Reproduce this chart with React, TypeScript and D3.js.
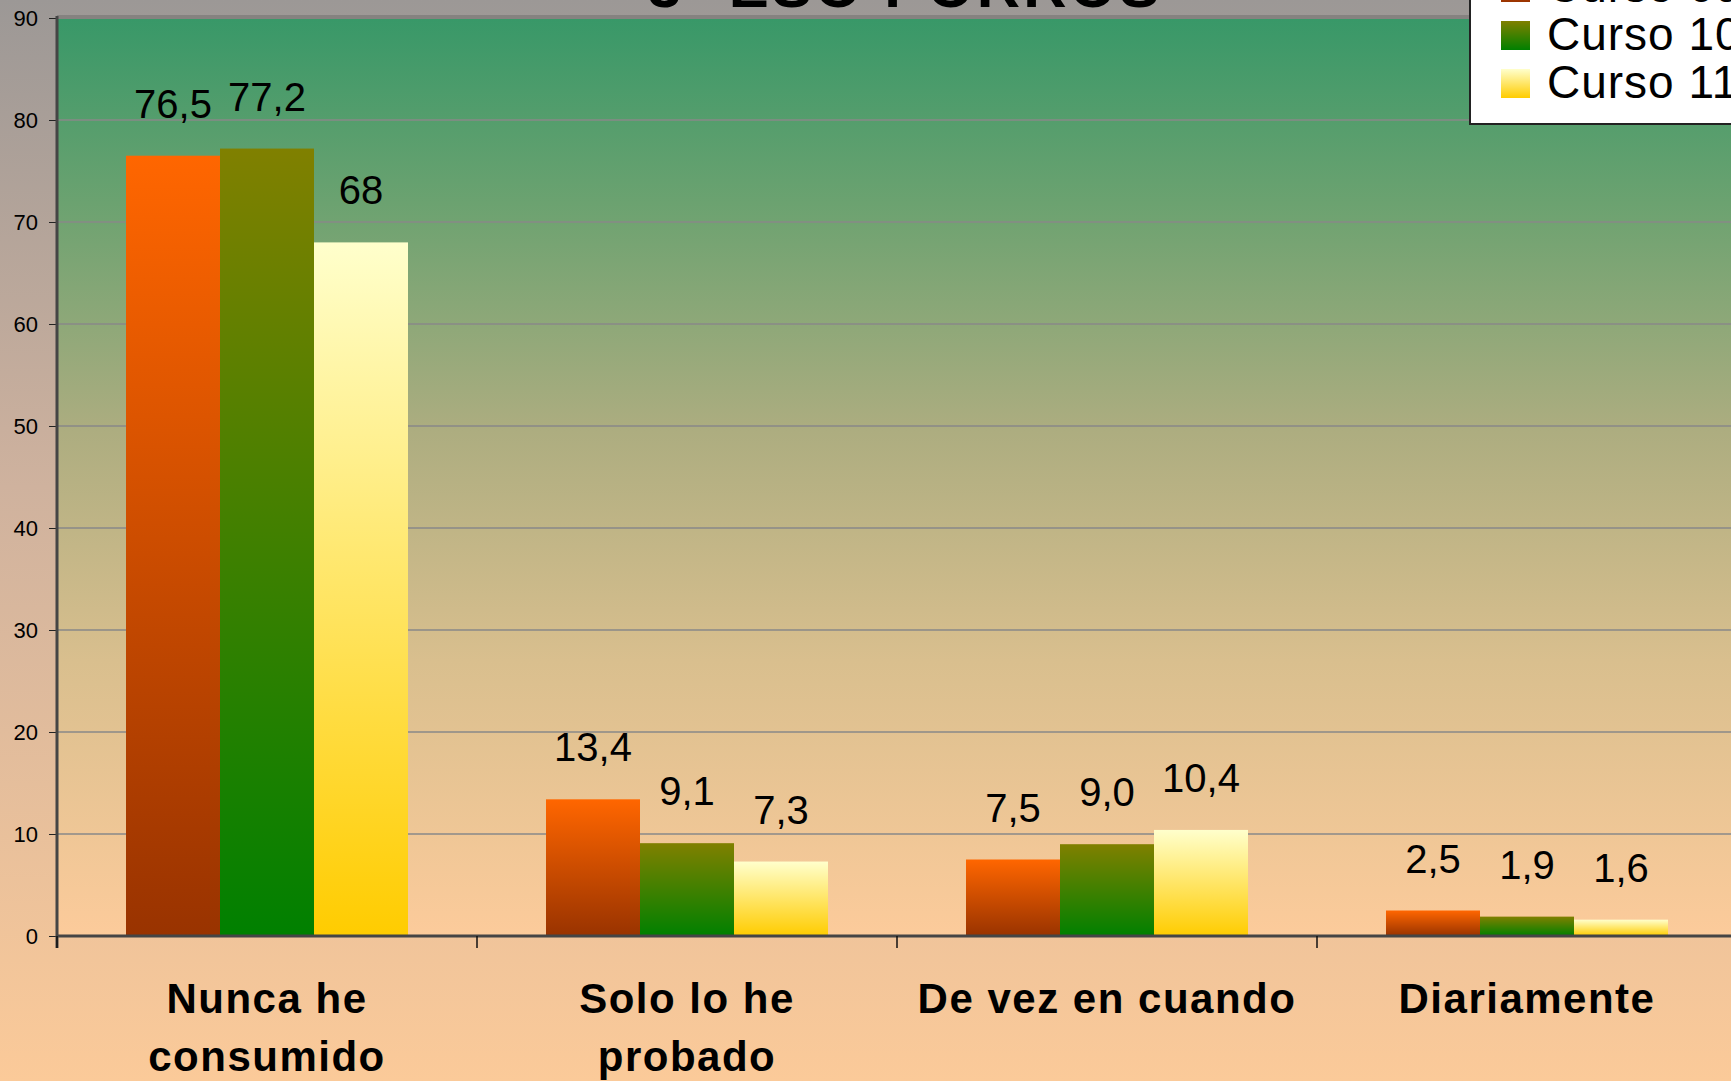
import React, { useEffect, useRef } from 'react'
import * as d3 from 'd3'

// chart data
const categories = ['Nunca he\nconsumido', 'Solo lo he\nprobado', 'De vez en cuando', 'Diariamente']
const seriesNames = ['Curso 09-10', 'Curso 10-11', 'Curso 11-12']
const curso1 = [76.5, 13.4, 7.5, 2.5]
const curso2 = [77.2, 9.1, 9.0, 1.9]
const curso3 = [68, 7.3, 10.4, 1.6]
const labels1 = ['76,5', '13,4', '7,5', '2,5']
const labels2 = ['77,2', '9,1', '9,0', '1,9']
const labels3 = ['68', '7,3', '10,4', '1,6']
const yTicks = [0, 10, 20, 30, 40, 50, 60, 70, 80, 90]
const title = '3º ESO PORROS'

const W = 1731
const H = 1081
const FONT = "'Liberation Sans', Arial, sans-serif"

// gradient stops per series: [top, bottom]
const barColors = [
  ['#ff6600', '#993300'],
  ['#808000', '#008000'],
  ['#ffffcc', '#ffcc00'],
]

const App = () => {
  const ref = useRef<SVGSVGElement>(null)

  useEffect(() => {
    document.body.style.margin = '0'
    const svg = d3.select(ref.current)
    svg.selectAll('*').remove()

    const margin = { top: 18, left: 57, bottom: 936 }
    const x0 = d3.scaleBand().domain(categories).range([margin.left, margin.left + 4 * 420])
    const x1 = d3.scaleBand().domain(seriesNames).range([69, 351])
    const y = d3.scaleLinear().domain([0, 90]).range([margin.bottom, margin.top])

    const defs = svg.append('defs')
    const bg = defs.append('linearGradient').attr('id', 'bg').attr('x1', 0).attr('y1', 0).attr('x2', 0).attr('y2', 1)
    bg.append('stop').attr('offset', 0).attr('stop-color', '#9c9896')
    bg.append('stop').attr('offset', 0.45).attr('stop-color', '#cfb29e')
    bg.append('stop').attr('offset', 1).attr('stop-color', '#fbca99')

    const plotBg = defs.append('linearGradient').attr('id', 'plotbg').attr('x1', 0).attr('y1', 0).attr('x2', 0).attr('y2', 1)
    plotBg.append('stop').attr('offset', 0).attr('stop-color', '#389868')
    plotBg.append('stop').attr('offset', 0.2).attr('stop-color', '#6ba270')
    plotBg.append('stop').attr('offset', 0.45).attr('stop-color', '#adad80')
    plotBg.append('stop').attr('offset', 0.7).attr('stop-color', '#d9bf8e')
    plotBg.append('stop').attr('offset', 1).attr('stop-color', '#fccb9b')

    barColors.forEach((c, i) => {
      const g = defs.append('linearGradient').attr('id', 'bar' + i).attr('x1', 0).attr('y1', 0).attr('x2', 0).attr('y2', 1)
      g.append('stop').attr('offset', 0).attr('stop-color', c[0])
      g.append('stop').attr('offset', 1).attr('stop-color', c[1])
    })

    svg.append('rect').attr('width', W).attr('height', H).attr('fill', 'url(#bg)')
    svg.append('rect')
      .attr('x', margin.left).attr('y', margin.top)
      .attr('width', W - margin.left).attr('height', margin.bottom - margin.top)
      .attr('fill', 'url(#plotbg)')

    // title, cut off at the top
    svg.append('text')
      .attr('x', 905).attr('y', 7)
      .attr('text-anchor', 'middle')
      .style('font', `bold 60px ${FONT}`)
      .style('letter-spacing', '3px')
      .text(title)

    // gridlines
    svg.append('g').selectAll('line')
      .data(yTicks.filter(t => t > 0 && t < 90))
      .enter().append('line')
      .attr('x1', margin.left).attr('x2', W)
      .attr('y1', d => y(d)).attr('y2', d => y(d))
      .attr('stroke', '#888888').attr('stroke-width', 1.5)
    svg.append('line')
      .attr('x1', margin.left).attr('x2', W)
      .attr('y1', y(90) - 1).attr('y2', y(90) - 1)
      .attr('stroke', '#858280').attr('stroke-width', 4)

    // y axis
    const yAxis = svg.append('g')
      .attr('transform', `translate(${margin.left},0)`)
      .call(d3.axisLeft(y).tickValues(yTicks).tickSize(8).tickPadding(11))
    yAxis.select('.domain').remove()
    yAxis.selectAll('text').style('font', `22px ${FONT}`).attr('fill', '#000')
    yAxis.selectAll('line').attr('stroke', '#222')

    // bars
    const series = [curso1, curso2, curso3]
    const labels = [labels1, labels2, labels3]
    const groups = svg.append('g').selectAll('g')
      .data(categories)
      .enter().append('g')
      .attr('transform', d => `translate(${x0(d)},0)`)

    groups.selectAll('rect')
      .data((d, i) => series.map((s, j) => ({ key: seriesNames[j], j, value: s[i] })))
      .enter().append('rect')
      .attr('x', d => x1(d.key))
      .attr('width', x1.bandwidth())
      .attr('y', d => y(d.value))
      .attr('height', d => y(0) - y(d.value))
      .attr('fill', d => `url(#bar${d.j})`)

    groups.selectAll('text.label')
      .data((d, i) => series.map((s, j) => ({ key: seriesNames[j], value: s[i], text: labels[j][i] })))
      .enter().append('text')
      .attr('class', 'label')
      .attr('x', d => x1(d.key) + x1.bandwidth() / 2)
      .attr('y', d => y(d.value) - 38)
      .attr('text-anchor', 'middle')
      .style('font', `40px ${FONT}`)
      .text(d => d.text)

    // axis lines
    svg.append('line')
      .attr('x1', margin.left).attr('x2', margin.left)
      .attr('y1', margin.top - 2).attr('y2', margin.bottom + 12)
      .attr('stroke', '#454545').attr('stroke-width', 3)
    svg.append('line')
      .attr('x1', margin.left).attr('x2', W)
      .attr('y1', margin.bottom).attr('y2', margin.bottom)
      .attr('stroke', '#454545').attr('stroke-width', 3)
    svg.append('g').selectAll('line')
      .data(categories)
      .enter().append('line')
      .attr('x1', d => x0(d)).attr('x2', d => x0(d))
      .attr('y1', margin.bottom).attr('y2', margin.bottom + 12)
      .attr('stroke', '#111').attr('stroke-width', 1.5)

    // category labels
    const catText = svg.append('g').selectAll('text')
      .data(categories)
      .enter().append('text')
      .attr('x', d => x0(d) + x0.bandwidth() / 2)
      .attr('y', 1013)
      .attr('text-anchor', 'middle')
      .style('font', `bold 42px ${FONT}`)
      .style('letter-spacing', '1.5px')
    catText.selectAll('tspan')
      .data(d => d.split('\n'))
      .enter().append('tspan')
      .attr('x', function () { return (this.parentNode as SVGTextElement).getAttribute('x') })
      .attr('dy', (d, i) => (i === 0 ? 0 : 58))
      .text(d => d)

    // legend, cut off at top-right
    const legend = svg.append('g')
    legend.append('rect')
      .attr('x', 1470).attr('y', -60).attr('width', 300).attr('height', 184)
      .attr('fill', '#fff').attr('stroke', '#222').attr('stroke-width', 2)
    const items = legend.selectAll('g.item')
      .data(seriesNames)
      .enter().append('g')
      .attr('class', 'item')
      .attr('transform', (d, i) => `translate(1501,${-27 + i * 48})`)
    items.append('rect')
      .attr('width', 29).attr('height', 29)
      .attr('fill', (d, i) => `url(#bar${i})`)
    items.append('text')
      .attr('x', 46).attr('y', 29)
      .style('font', `46px ${FONT}`)
      .style('letter-spacing', '1px')
      .text(d => d)
  }, [])

  return <svg ref={ref} width={W} height={H} style={{ display: 'block' }} />
}

export default App
